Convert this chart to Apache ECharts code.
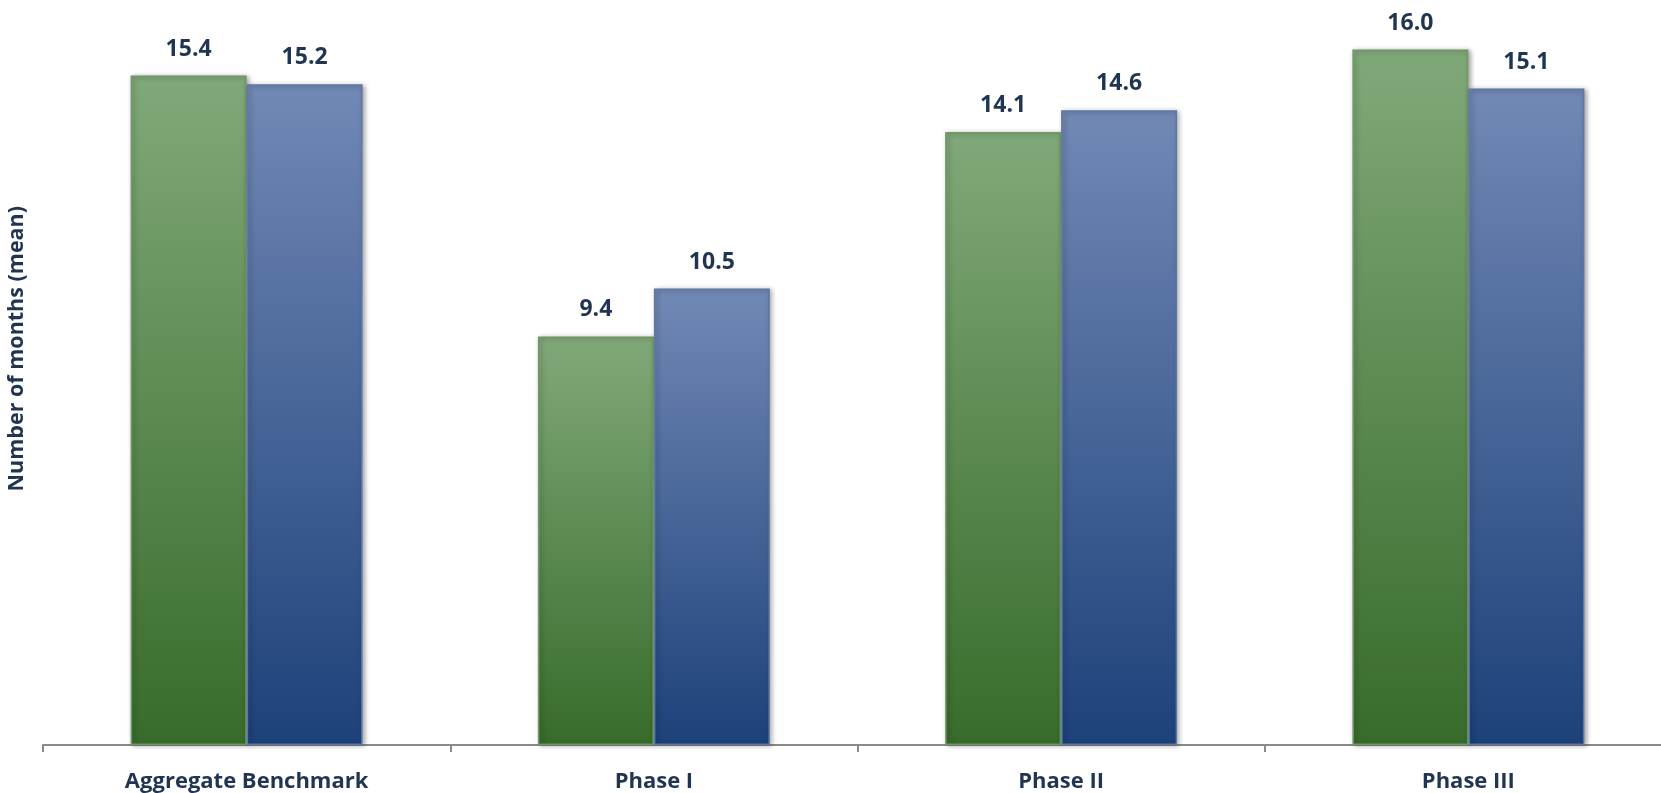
<!DOCTYPE html>
<html>
<head>
<meta charset="utf-8">
<script src="https://cdn.jsdelivr.net/npm/echarts@6/dist/echarts.min.js"></script>
<style>
  html, body { margin: 0; padding: 0; background: #fff; }
  #chart { width: 1661px; height: 793px; }
</style>
</head>
<body>
<div id="chart"></div>
<script>
// Mean duration in months, per development phase
const categories = ['Aggregate Benchmark', 'Phase I', 'Phase II', 'Phase III'];
const greenValues = [15.4, 9.4, 14.1, 16.0];
const blueValues = [15.2, 10.5, 14.6, 15.1];
const yAxisTitle = 'Number of months (mean)';

const TEXT_COLOR = '#1f3552';
const FONT = '"Open Sans", "DejaVu Sans", sans-serif';

function barGradient(top, bottom) {
  return new echarts.graphic.LinearGradient(0, 0, 0, 1, [
    { offset: 0, color: top },
    { offset: 1, color: bottom }
  ]);
}

function barSeries(name, values, top, bottom, edge) {
  return {
    name: name,
    type: 'bar',
    data: values,
    barWidth: 116,
    barGap: '0%',
    itemStyle: {
      color: barGradient(top, bottom),
      borderColor: edge,
      borderWidth: 1.5,
      shadowColor: 'rgba(0,0,0,0.35)',
      shadowBlur: 5,
      shadowOffsetX: 2,
      shadowOffsetY: 1
    },
    label: {
      show: true,
      position: 'top',
      distance: 15,
      color: TEXT_COLOR,
      fontFamily: FONT,
      fontWeight: 'bold',
      fontSize: 23,
      formatter: p => p.value.toFixed(1)
    }
  };
}

const chart = echarts.init(document.getElementById('chart'), null, { renderer: 'canvas' });
chart.setOption({
  animation: false,
  backgroundColor: '#ffffff',
  grid: {
    left: 43, width: 1629, top: 6, bottom: 48,
    containLabel: false,
    outerBoundsMode: 'none'
  },
  xAxis: {
    type: 'category',
    data: categories,
    axisLine: { lineStyle: { color: '#8a8a8a', width: 2 } },
    axisTick: { show: true, length: 7, lineStyle: { color: '#8a8a8a', width: 2 } },
    axisLabel: {
      color: TEXT_COLOR,
      fontFamily: FONT,
      fontWeight: 'bold',
      fontSize: 22,
      margin: 26
    }
  },
  yAxis: {
    type: 'value',
    min: 0,
    max: 17,
    show: false
  },
  graphic: [{
    type: 'text',
    left: 6,
    top: 206,
    rotation: Math.PI / 2,
    style: {
      text: yAxisTitle,
      fill: TEXT_COLOR,
      font: 'bold 21.5px ' + FONT
    }
  }],
  series: [
    barSeries('A', greenValues, '#80a979', '#386b2b', '#6f9866'),
    barSeries('B', blueValues, '#7189b5', '#1d417a', '#5f77a3')
  ]
});
</script>
</body>
</html>
